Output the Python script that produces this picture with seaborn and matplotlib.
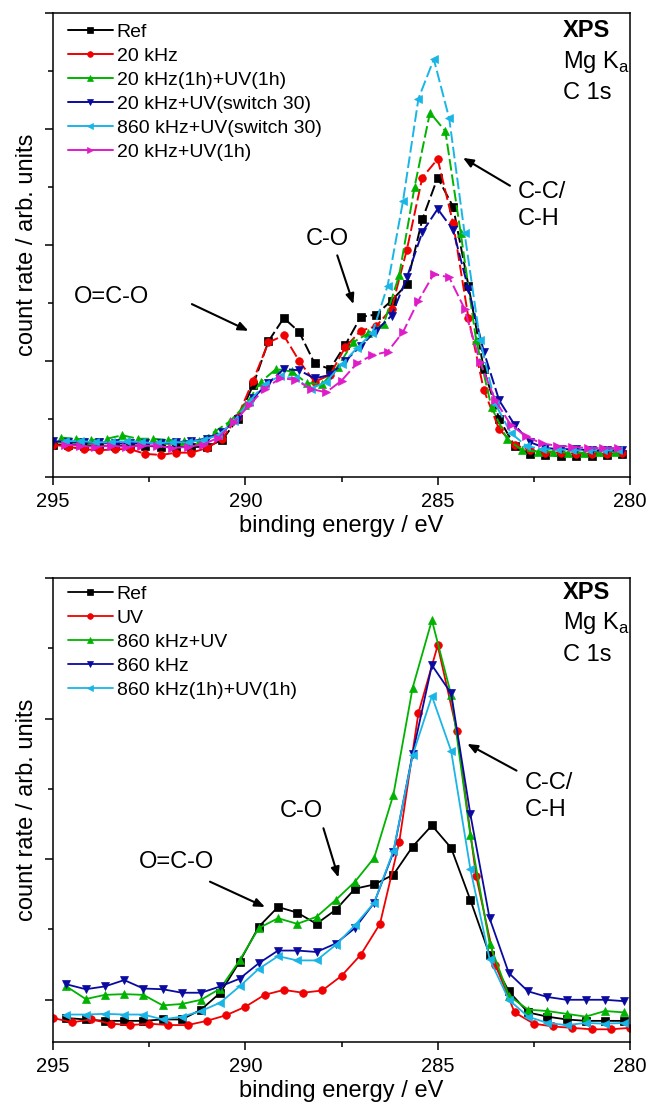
import numpy as np
import matplotlib
matplotlib.use("Agg")
import matplotlib.pyplot as plt
from matplotlib.ticker import MultipleLocator, FixedLocator
import seaborn as sns

# ---------------- data ----------------
# measurement grids (start energy, step, number of points)
def grid(start, step, n):
    return np.round(start - step * np.arange(n), 2)

# top panel: 0.4 eV steps
E_top_a = grid(295.0, 0.4, 38)   # Ref, 20 kHz, 20 kHz+UV(switch 30)
E_top_g = grid(294.8, 0.4, 37)   # 20 kHz(1h)+UV(1h)
E_top_c = grid(294.7, 0.4, 37)   # 860 kHz+UV(switch 30), 20 kHz+UV(1h)

top_ref = [0.28, 0.28, 0.27, 0.27, 0.27, 0.27, 0.27, 0.26, 0.26, 0.26, 0.26, 0.32, 0.50,
           0.79, 1.17, 1.37, 1.25, 0.98, 0.93, 1.14, 1.38, 1.40, 1.52, 1.66, 2.22, 2.58,
           2.33, 1.65, 0.93, 0.50, 0.27, 0.20, 0.19, 0.18, 0.18, 0.18, 0.19, 0.20]
top_20k = [0.28, 0.26, 0.24, 0.23, 0.24, 0.24, 0.20, 0.19, 0.21, 0.21, 0.25, 0.33, 0.52,
           0.83, 1.16, 1.22, 1.00, 0.82, 0.88, 1.12, 1.26, 1.30, 1.45, 1.96, 2.58, 2.74,
           2.19, 1.37, 0.75, 0.41, 0.28, 0.23, 0.21, 0.21, 0.20, 0.20, 0.20, 0.21]
top_20k_uv_1h = [0.34, 0.33, 0.32, 0.33, 0.36, 0.33, 0.33, 0.32, 0.31, 0.31, 0.39, 0.48,
                 0.62, 0.82, 0.93, 0.91, 0.81, 0.80, 0.95, 1.16, 1.24, 1.32, 1.74, 2.50,
                 3.14, 2.98, 2.10, 1.18, 0.60, 0.33, 0.23, 0.22, 0.22, 0.21, 0.21, 0.22, 0.22]
top_20k_sw30 = [0.31, 0.30, 0.30, 0.30, 0.29, 0.29, 0.29, 0.29, 0.30, 0.31, 0.33, 0.39, 0.50,
                0.68, 0.81, 0.93, 0.92, 0.85, 0.88, 1.00, 1.13, 1.26, 1.39, 1.72, 2.11, 2.31,
                2.13, 1.62, 1.08, 0.66, 0.45, 0.30, 0.25, 0.24, 0.24, 0.23, 0.23, 0.23]
top_860k_sw30 = [0.31, 0.31, 0.30, 0.30, 0.31, 0.30, 0.29, 0.30, 0.30, 0.32, 0.36, 0.48,
                 0.65, 0.80, 0.87, 0.85, 0.76, 0.82, 0.97, 1.11, 1.24, 1.65, 2.38, 3.26,
                 3.60, 3.09, 2.10, 1.18, 0.63, 0.38, 0.27, 0.24, 0.24, 0.23, 0.23, 0.23, 0.23]
top_20k_uv = [0.28, 0.27, 0.26, 0.27, 0.26, 0.27, 0.27, 0.25, 0.26, 0.28, 0.34, 0.47, 0.62,
              0.76, 0.85, 0.84, 0.76, 0.73, 0.83, 0.98, 1.05, 1.08, 1.25, 1.52, 1.75, 1.72,
              1.45, 0.99, 0.66, 0.45, 0.35, 0.29, 0.27, 0.26, 0.25, 0.25, 0.25]

top_labels = ["Ref", "20 kHz", "20 kHz(1h)+UV(1h)", "20 kHz+UV(switch 30)",
              "860 kHz+UV(switch 30)", "20 kHz+UV(1h)"]

# bottom panel: 0.5 eV steps
E_bot_r = grid(295.0, 0.5, 31)    # UV
E_bot_o = grid(294.65, 0.5, 30)   # others

bot_ref = [-0.13, -0.14, -0.15, -0.15, -0.15, -0.14, -0.14, -0.07, 0.05, 0.27, 0.52, 0.66,
           0.62, 0.54, 0.64, 0.79, 0.82, 0.89, 1.09, 1.24, 1.08, 0.71, 0.32, 0.06, -0.09,
           -0.12, -0.14, -0.15, -0.15, -0.15]
bot_uv = [-0.13, -0.16, -0.14, -0.17, -0.18, -0.17, -0.18, -0.18, -0.15, -0.11, -0.05, 0.035,
          0.07, 0.05, 0.066, 0.17, 0.32, 0.54, 1.12, 2.04, 2.52, 1.91, 0.88, 0.25, -0.09,
          -0.17, -0.19, -0.20, -0.21, -0.21, -0.20]
bot_860k_uv = [0.095, 0.005, 0.035, 0.04, 0.035, -0.04, -0.03, 0.0, 0.08, 0.28, 0.51, 0.58,
               0.54, 0.59, 0.71, 0.84, 1.01, 1.46, 2.22, 2.70, 2.17, 1.17, 0.40, 0.03, -0.07,
               -0.08, -0.10, -0.12, -0.08, -0.09]
bot_860k = [0.11, 0.075, 0.095, 0.14, 0.08, 0.075, 0.05, 0.05, 0.095, 0.15, 0.26, 0.35,
            0.35, 0.34, 0.40, 0.51, 0.69, 1.05, 1.75, 2.38, 2.18, 1.32, 0.58, 0.19, 0.06,
            0.02, 0.0, 0.0, 0.0, -0.01]
bot_860k_uv_1h = [-0.105, -0.105, -0.10, -0.105, -0.105, -0.14, -0.12, -0.08, -0.02, 0.095,
                  0.22, 0.31, 0.28, 0.28, 0.39, 0.53, 0.69, 1.06, 1.74, 2.16, 1.77, 0.93,
                  0.29, 0.0, -0.12, -0.165, -0.18, -0.165, -0.17, -0.165]

bot_labels = ["Ref", "UV", "860 kHz+UV", "860 kHz", "860 kHz(1h)+UV(1h)"]

x_ticks = [295, 290, 285, 280]

# ---------------- style ----------------
sns.set_style("ticks")
plt.rcParams["font.family"] = ["Liberation Sans", "DejaVu Sans"]
plt.rcParams["mathtext.fontset"] = "custom"
plt.rcParams["mathtext.rm"] = "Liberation Sans"
plt.rcParams["axes.linewidth"] = 1.1
for key in ["text.color", "axes.labelcolor", "xtick.color", "ytick.color",
            "axes.edgecolor", "xtick.labelcolor", "ytick.labelcolor"]:
    plt.rcParams[key] = "black"

BLACK = "#000000"
RED = "#F00000"
GREEN = "#00B300"
BLUE = "#0A0AA0"
CYAN = "#19B5E6"
MAGENTA = "#E01BC8"

fig = plt.figure(figsize=(6.49, 11.12), dpi=100)
ax1 = fig.add_axes([0.0817, 0.571, 0.889, 0.4175])
ax2 = fig.add_axes([0.0817, 0.063, 0.889, 0.4172])

DASH = (0, (6, 2))

top_series = [
    (E_top_a, top_ref, BLACK, "s"),
    (E_top_a, top_20k, RED, "o"),
    (E_top_g, top_20k_uv_1h, GREEN, "^"),
    (E_top_a, top_20k_sw30, BLUE, "v"),
    (E_top_c, top_860k_sw30, CYAN, "<"),
    (E_top_c, top_20k_uv, MAGENTA, ">"),
]
for (x, y, c, m), lab in zip(top_series, top_labels):
    sns.lineplot(x=x, y=y, ax=ax1, color=c, marker=m, markersize=5.5,
                 markeredgecolor=c, markeredgewidth=0.5, linewidth=1.4,
                 linestyle=DASH, sort=False, label=lab)

bot_series = [
    (E_bot_o, bot_ref, BLACK, "s"),
    (E_bot_r, bot_uv, RED, "o"),
    (E_bot_o, bot_860k_uv, GREEN, "^"),
    (E_bot_o, bot_860k, BLUE, "v"),
    (E_bot_o, bot_860k_uv_1h, CYAN, "<"),
]
for (x, y, c, m), lab in zip(bot_series, bot_labels):
    sns.lineplot(x=x, y=y, ax=ax2, color=c, marker=m, markersize=5.5,
                 markeredgecolor=c, markeredgewidth=0.5, linewidth=1.3,
                 sort=False, label=lab)

FS_TICK = 14.5
FS_LAB = 17
FS_LEG = 14
FS_ANN = 17

for ax, ylim, ymaj in [(ax1, (0, 4), [0, 1, 2, 3, 4]), (ax2, (-0.3, 3.0), [0, 1, 2, 3])]:
    ax.set_xlim(295, 280)
    ax.set_ylim(*ylim)
    ax.xaxis.set_major_locator(FixedLocator(x_ticks))
    ax.xaxis.set_minor_locator(MultipleLocator(2.5))
    ax.yaxis.set_major_locator(FixedLocator(ymaj))
    ax.yaxis.set_minor_locator(MultipleLocator(0.5))
    ax.set_yticklabels([])
    ax.set_xticklabels([str(t) for t in x_ticks])
    ax.tick_params(which="major", direction="out", length=6, width=1.1, color="black",
                   labelcolor="black", labelsize=FS_TICK, pad=5, top=False, right=False)
    ax.tick_params(which="minor", direction="out", length=3.5, width=1.1, color="black",
                   top=False, right=False)
    for s in ax.spines.values():
        s.set_visible(True)
        s.set_linewidth(1.1)
        s.set_color("black")
    ax.set_xlabel("binding energy / eV", fontsize=FS_LAB, labelpad=3, color="black")
    ax.set_ylabel("count rate / arb. units", fontsize=FS_LAB, labelpad=0, color="black")

leg_kw = dict(loc="upper left", frameon=False, fontsize=FS_LEG, borderpad=0,
              handlelength=2.3, handletextpad=0.2, labelspacing=0.33,
              borderaxespad=0, markerscale=0.75, labelcolor="black")
leg1 = ax1.legend(bbox_to_anchor=(0.026, 0.978), **leg_kw)
leg2 = ax2.legend(bbox_to_anchor=(0.026, 0.985), **leg_kw)
for leg in (leg1, leg2):
    for h in leg.get_lines():
        h.set_linestyle("-")

# --- annotations: top panel ---
arrow = dict(arrowstyle="-|>,head_length=0.6,head_width=0.25", color="black", lw=1.5,
             shrinkA=0, shrinkB=0)
ax1.text(293.47, 1.55, "O=C-O", fontsize=FS_ANN, ha="center", va="center")
ax1.annotate("", xy=(289.92, 1.26), xytext=(291.39, 1.49), arrowprops=arrow)
ax1.text(287.88, 2.05, "C-O", fontsize=FS_ANN, ha="center", va="center")
ax1.annotate("", xy=(287.19, 1.49), xytext=(287.61, 1.91), arrowprops=arrow)
ax1.text(282.91, 2.55, "C-C/\nC-H", fontsize=FS_ANN, ha="left", va="top", linespacing=1.3)
ax1.annotate("", xy=(284.34, 2.75), xytext=(283.12, 2.51), arrowprops=arrow)
ax1.text(281.74, 3.85, "XPS", fontsize=FS_ANN, fontweight="bold", ha="left", va="center")
ax1.text(281.74, 3.58, r"Mg K$_{\mathregular{a}}$", fontsize=FS_ANN, ha="left", va="center")
ax1.text(281.74, 3.31, "C 1s", fontsize=FS_ANN, ha="left", va="center")

# --- annotations: bottom panel ---
ax2.text(291.78, 0.98, "O=C-O", fontsize=FS_ANN, ha="center", va="center")
ax2.annotate("", xy=(289.49, 0.66), xytext=(290.92, 0.84), arrowprops=arrow)
ax2.text(288.55, 1.34, "C-O", fontsize=FS_ANN, ha="center", va="center")
ax2.annotate("", xy=(287.58, 0.87), xytext=(287.97, 1.22), arrowprops=arrow)
ax2.text(282.73, 1.62, "C-C/\nC-H", fontsize=FS_ANN, ha="left", va="top", linespacing=1.3)
ax2.annotate("", xy=(284.23, 1.82), xytext=(282.95, 1.63), arrowprops=arrow)
ax2.text(281.74, 2.90, "XPS", fontsize=FS_ANN, fontweight="bold", ha="left", va="center")
ax2.text(281.74, 2.68, r"Mg K$_{\mathregular{a}}$", fontsize=FS_ANN, ha="left", va="center")
ax2.text(281.74, 2.45, "C 1s", fontsize=FS_ANN, ha="left", va="center")

fig.savefig("out.png", dpi=100)
